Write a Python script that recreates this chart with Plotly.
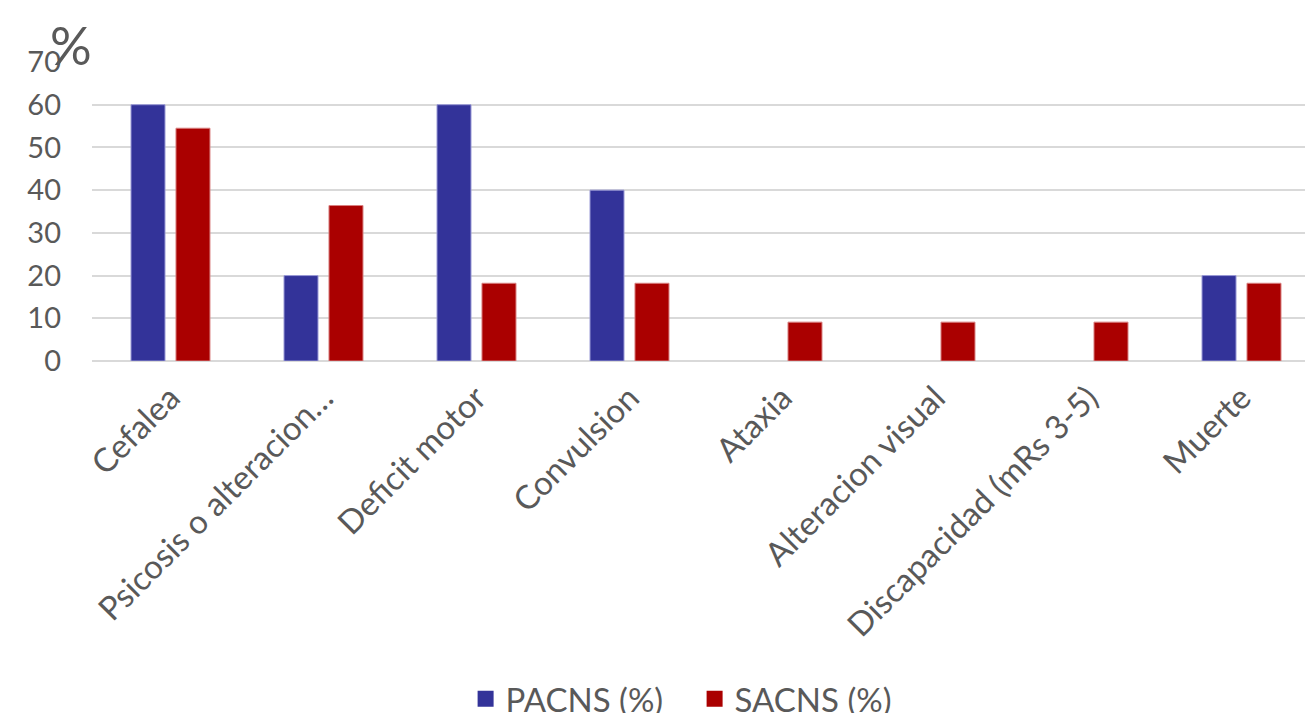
import plotly.graph_objects as go

categories = ["Cefalea", "Psicosis o alteracion…", "Deficit motor", "Convulsion",
              "Ataxia", "Alteracion visual", "Discapacidad (mRs 3-5)", "Muerte"]
pacns = [60, 20, 60, 40, 0, 0, 0, 20]
sacns = [54.5, 36.4, 18.2, 18.2, 9.1, 9.1, 9.1, 18.2]
y_ticks = [0, 10, 20, 30, 40, 50, 60, 70]

FONT = "Lato"
GREY = "#595959"
BLUE = "#333399"
RED = "#AA0000"

pac_line = [1 if v > 0 else 0 for v in pacns]
sac_line = [1 if v > 0 else 0 for v in sacns]

fig = go.Figure()
fig.add_trace(go.Bar(x=categories, y=pacns, name="PACNS (%)", showlegend=False,
                     marker=dict(color=BLUE, line=dict(color="#9a9ad6", width=pac_line))))
fig.add_trace(go.Bar(x=categories, y=sacns, name="SACNS (%)", showlegend=False,
                     marker=dict(color=RED, line=dict(color="#d98080", width=sac_line))))
# legend entries with larger square swatches
for name, col in [("PACNS (%)", BLUE), ("SACNS (%)", RED)]:
    fig.add_trace(go.Scatter(x=[None], y=[None], mode="markers", name=name,
                             marker=dict(symbol="square", size=20, color=col)))

fig.update_layout(
    width=1305, height=713,
    margin=dict(l=92, r=0, t=62, b=352, autoexpand=False),
    paper_bgcolor="white", plot_bgcolor="white",
    barmode="group", bargap=0.412, bargroupgap=0.244,
    font=dict(family=FONT, size=33, color=GREY),
    showlegend=True,
    legend=dict(orientation="h", x=0.308, xanchor="left", y=-1.130, yanchor="middle",
                font=dict(size=33, color=GREY), itemwidth=30, tracegroupgap=0,
                entrywidth=184),
    xaxis=dict(tickangle=-45, tickfont=dict(size=33, color=GREY), showgrid=False,
               showline=False, ticks="", automargin=False, range=[-0.513, 7.415],
               ticklabelstandoff=10),
    yaxis=dict(range=[0, 70], tickvals=y_ticks, tickfont=dict(size=29, color=GREY),
               showgrid=True, gridcolor="#d9d9d9", gridwidth=1.5,
               zeroline=True, zerolinecolor="#d9d9d9", zerolinewidth=1.5,
               ticklabelstandoff=30, automargin=False),
)
fig.add_annotation(text="%", xref="paper", yref="paper", x=-0.0174, y=1.0,
                   xanchor="center", yanchor="bottom", yshift=-16, showarrow=False,
                   font=dict(size=52, color=GREY, family=FONT))

fig.write_html("out.html")
